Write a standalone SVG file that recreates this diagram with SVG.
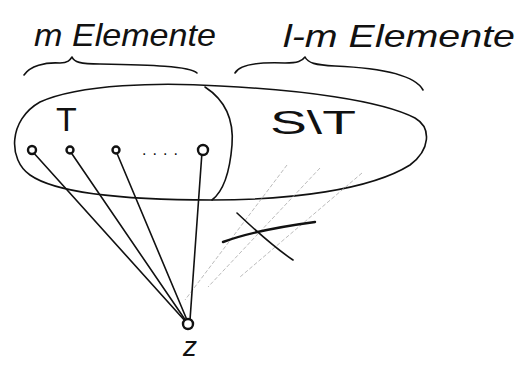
<svg xmlns="http://www.w3.org/2000/svg" width="524" height="367" viewBox="0 0 524 367">
<style>
.ink{fill:none;stroke:#111;stroke-width:1.6;stroke-linecap:round;stroke-linejoin:round}
.thick{fill:none;stroke:#111;stroke-width:2.4;stroke-linecap:round}
.hatch{fill:none;stroke:#aaa;stroke-width:0.8;stroke-dasharray:4 2}
.pt{fill:#fff;stroke:#111;stroke-width:2.4}
.lbl{font-family:"Liberation Sans",Arial,sans-serif;fill:#111}
</style>
<rect width="524" height="367" fill="#fff"/>
<g id="labels">
<text class="lbl" x="34" y="46" font-size="32" textLength="182" lengthAdjust="spacingAndGlyphs" font-style="italic">m Elemente</text>
<text class="lbl" x="283" y="47" font-size="32" textLength="232" lengthAdjust="spacingAndGlyphs" font-style="italic">l-m Elemente</text>
</g>
<g id="braces">
<path class="ink" d="M24,75 C30,66 45,62 60,63 C68,63 70,60 72,57 C74,62 80,64 100,64 C150,65 190,66 197,73"/>
<path class="ink" d="M235,73 C240,64 260,62 285,63 C298,63 302,61 305,57 C308,63 315,65 335,66 C380,68 415,75 423,90"/>
</g>
<g id="set">
<path class="ink" d="M40,102 C80,84 160,82 220,86 C300,90 380,100 415,118 C432,128 430,150 410,165 C370,190 290,200 212,200 C140,200 60,196 30,175 C8,160 8,120 40,102 Z"/>
<path id="divider" class="ink" d="M205,87 C225,100 234,120 232,145 C230,170 225,190 212,200"/>
<text class="lbl" x="56" y="131" font-size="34">T</text>
<text class="lbl" x="270" y="134" font-size="34" textLength="86" lengthAdjust="spacingAndGlyphs">S\T</text>
</g>
<g id="hatching">
<path class="hatch" d="M287,165 L185,300"/>
<path class="hatch" d="M320,168 L208,287"/>
<path class="hatch" d="M362,173 L240,277"/>
<path class="thick" d="M223,242 C250,232 285,226 315,222"/>
<path class="ink" d="M237,213 C255,230 275,248 293,260"/>
</g>
<g id="connectors">
<path class="ink" d="M32,151 L186,322"/>
<path class="ink" d="M70,151 L186,321"/>
<path class="ink" d="M116,151 L187,320"/>
<path class="ink" d="M202,152 L190,320"/>
</g>
<g id="p1"><circle class="pt" cx="32" cy="150" r="4"/></g>
<g id="p2"><circle class="pt" cx="70" cy="150" r="3.5"/></g>
<g id="p3"><circle class="pt" cx="116" cy="150" r="3.5"/></g>
<g id="dots"><text class="lbl" x="142" y="155" font-size="16" textLength="36" lengthAdjust="spacing">....</text></g>
<g id="p4"><circle class="pt" cx="203" cy="150" r="5"/></g>
<g id="z"><circle class="pt" cx="188" cy="324" r="5"/><text class="lbl" x="183" y="356" font-size="28" font-style="italic">z</text></g>
</svg>
